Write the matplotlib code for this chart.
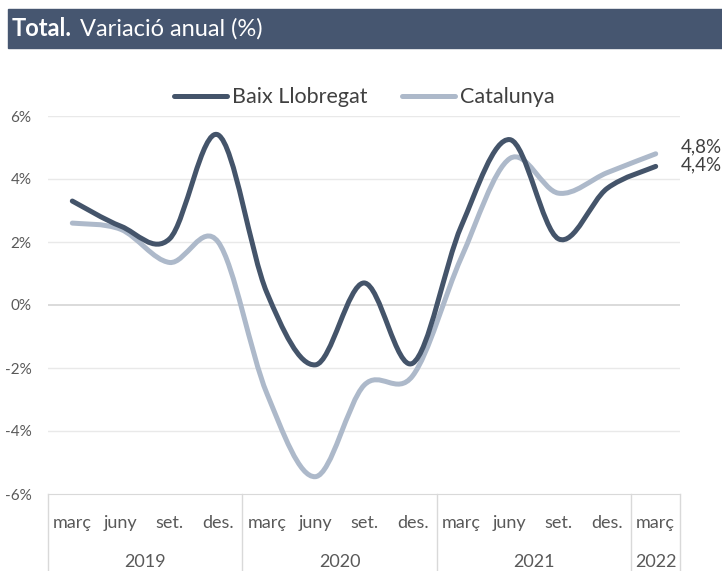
import numpy as np
from matplotlib import pyplot as plt
from matplotlib.path import Path
from matplotlib.patches import PathPatch, Rectangle
import matplotlib.transforms as mtransforms

plt.rcParams["font.family"] = ["Lato", "DejaVu Sans"]

# data
months = ["març", "juny", "set.", "des."] * 3 + ["març"]
years = ["2019", "2020", "2021", "2022"]
year_sizes = [4, 4, 4, 1]
baix = [3.3, 2.5, 2.1, 5.4, 0.4, -1.9, 0.7, -1.85, 2.5, 5.25, 2.1, 3.7, 4.4]
catalunya = [2.6, 2.4, 1.35, 2.0, -2.8, -5.45, -2.55, -2.25, 1.5, 4.65, 3.55, 4.2, 4.8]
end_labels = ["4,4%", "4,8%"]

DARK = "#44546A"
LIGHT = "#ADB9CA"
GRID = "#E9E9E9"
TXT = "#595959"


def smooth_path(xs, ys):
    """Catmull-Rom style smoothing (similar to Excel's smoothed line)."""
    pts = np.column_stack([xs, ys]).astype(float)
    ext = np.vstack([pts[0], pts, pts[-1]])
    verts = [pts[0]]
    codes = [Path.MOVETO]
    for i in range(1, len(ext) - 2):
        p0, p1, p2, p3 = ext[i - 1], ext[i], ext[i + 1], ext[i + 2]
        c1 = p1 + (p2 - p0) / 6.0
        c2 = p2 - (p3 - p1) / 6.0
        verts += [c1, c2, p2]
        codes += [Path.CURVE4] * 3
    return Path(verts, codes)


fig = plt.figure(figsize=(7.22, 5.71), dpi=100)
ax = fig.add_axes([48 / 722, 77 / 571, 632 / 722, 378 / 571])

# title bar
fig.patches.append(Rectangle((8 / 722, (571 - 48) / 571), 1 - 8 / 722, 39 / 571,
                             transform=fig.transFigure, color="#465670", zorder=0))
title_bold = fig.text(12 / 722, (571 - 29) / 571, "Total.", color="white", fontsize=17,
                      fontweight="bold", va="center", ha="left")
fig.text(80 / 722, (571 - 29) / 571, "Variació anual (%)", color="white", fontsize=17,
         va="center", ha="left")

x = np.arange(len(months))
for ys, col, lab in [(baix, DARK, "Baix Llobregat"), (catalunya, LIGHT, "Catalunya")]:
    patch = PathPatch(smooth_path(x, ys), facecolor="none", edgecolor=col, lw=3.6,
                      capstyle="round", joinstyle="round", zorder=3 if col == DARK else 2)
    ax.add_patch(patch)
    ax.plot([], [], color=col, lw=3.6, solid_capstyle="round", label=lab)

ax.set_xlim(-0.5, len(months) - 0.5)
ax.set_ylim(-6, 6)
ax.set_yticks(np.arange(-6, 7, 2))
ax.set_yticklabels([f"{v}%" for v in range(-6, 7, 2)], color=TXT, fontsize=11)
ax.tick_params(axis="y", length=0, pad=12)
ax.set_xticks([])
for s in ["top", "right", "left"]:
    ax.spines[s].set_visible(False)
ax.spines["bottom"].set_color("#D9D9D9")
for v in range(-4, 7, 2):
    ax.axhline(v, color="#D4D4D4" if v == 0 else GRID, lw=1.2 if v == 0 else 1, zorder=1)

# end labels
ax.annotate(end_labels[1], (x[-1], catalunya[-1]), xytext=(18, 5), textcoords="offset points",
            color="#404040", fontsize=13.5, va="center")
ax.annotate(end_labels[0], (x[-1], baix[-1]), xytext=(18, 1), textcoords="offset points",
            color="#404040", fontsize=13.5, va="center")

# two-level category axis
trans = mtransforms.blended_transform_factory(ax.transData, ax.transAxes)
for xi, m in zip(x, months):
    ax.text(xi, -0.078, m, transform=trans, ha="center", va="center", color=TXT, fontsize=13)
start = -0.5
bounds = [start]
for yr, n in zip(years, year_sizes):
    ax.text(start + n / 2, -0.18, yr, transform=trans, ha="center", va="center",
            color=TXT, fontsize=13)
    start += n
    bounds.append(start)
for b in bounds:
    ax.plot([b, b], [0, -0.21], transform=trans, color="#D9D9D9", lw=1, clip_on=False)

ax.legend(loc="lower center", bbox_to_anchor=(0.5, 1.0), ncol=2, frameon=False,
          fontsize=15.5, handlelength=2.5, handletextpad=0.2, columnspacing=1.6,
          labelcolor="#404040", borderaxespad=0.0)

fig.savefig("out.png", dpi=100)
